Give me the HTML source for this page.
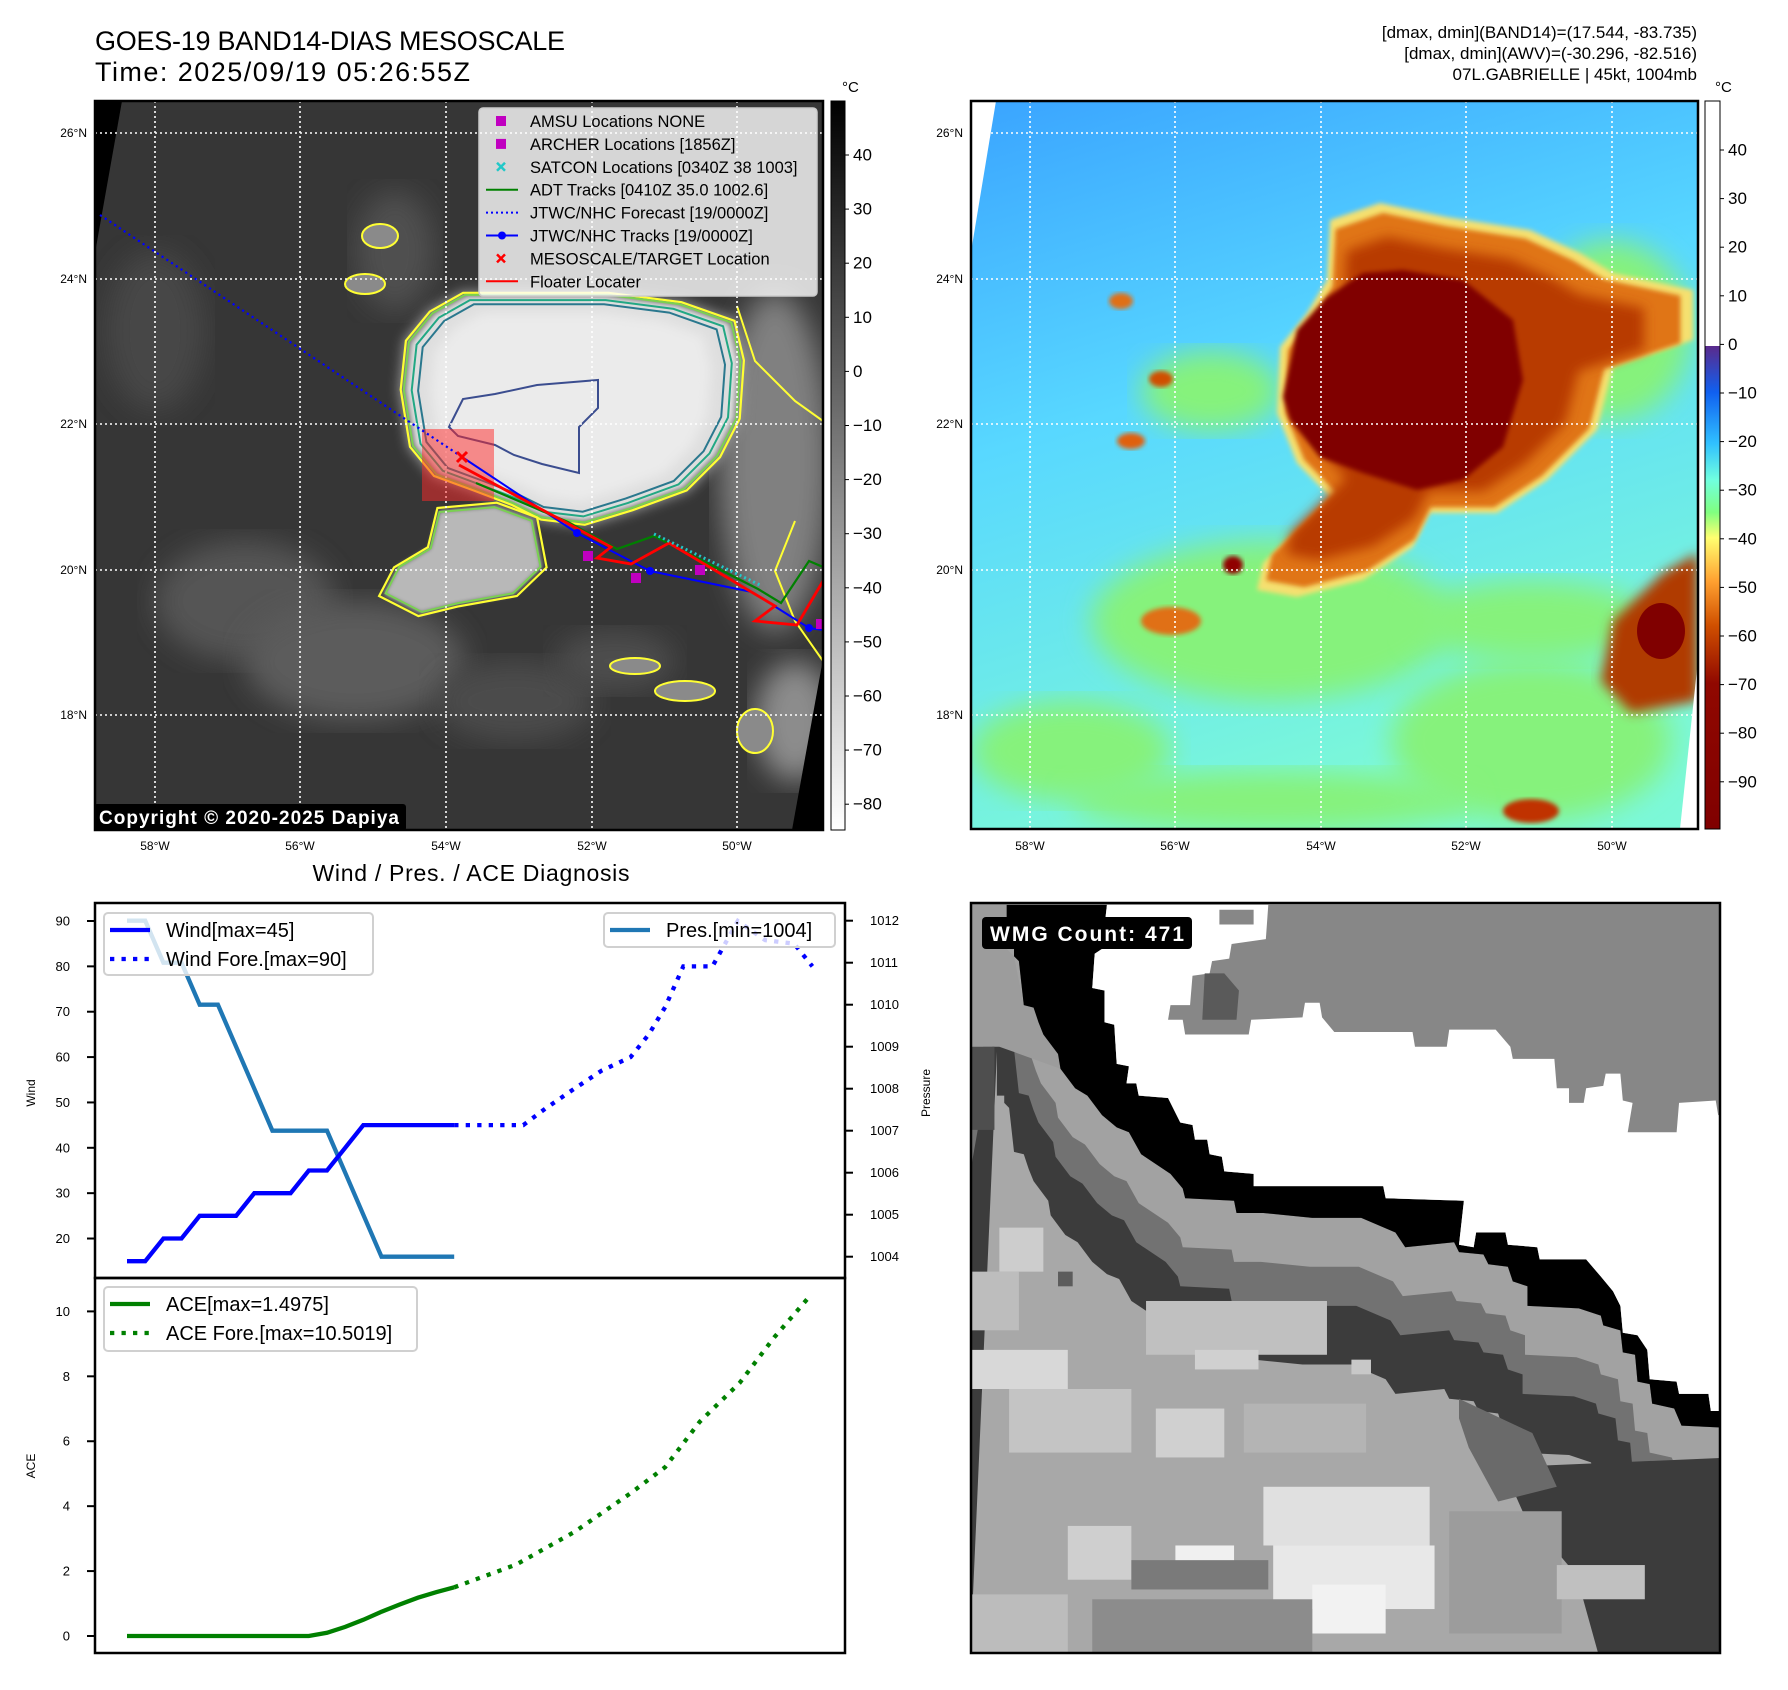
<!DOCTYPE html>
<html><head><meta charset="utf-8"><style>
html,body{margin:0;padding:0;background:#fff;}
svg{display:block;font-family:"Liberation Sans","DejaVu Sans",sans-serif;}
</style></head><body>
<svg id="root" width="1788" height="1690" viewBox="0 0 1788 1690" xmlns="http://www.w3.org/2000/svg">
<defs>
<clipPath id="clipL"><rect x="95" y="101" width="728" height="729"/></clipPath>
<clipPath id="clipR"><rect x="971" y="101" width="727" height="728"/></clipPath>
<clipPath id="clipW"><rect x="971" y="903" width="749" height="750"/></clipPath>
<filter id="blur6"><feGaussianBlur stdDeviation="6"/></filter>
<filter id="blur14"><feGaussianBlur stdDeviation="14"/></filter>
<filter id="blur3"><feGaussianBlur stdDeviation="2.5"/></filter>
<linearGradient id="cbL" x1="0" y1="0" x2="0" y2="1"><stop offset="0" stop-color="#000"/><stop offset="1" stop-color="#fff"/></linearGradient>
<linearGradient id="cbR" x1="0" y1="0" x2="0" y2="1">
<stop offset="0" stop-color="#fff"/><stop offset="0.3366" stop-color="#fff"/>
<stop offset="0.3367" stop-color="#5a2a8c"/><stop offset="0.40" stop-color="#1060f0"/>
<stop offset="0.47" stop-color="#30c0ff"/><stop offset="0.52" stop-color="#70ffe0"/>
<stop offset="0.565" stop-color="#80ff80"/><stop offset="0.60" stop-color="#ffff70"/>
<stop offset="0.66" stop-color="#ffa030"/><stop offset="0.72" stop-color="#d05000"/>
<stop offset="0.80" stop-color="#900800"/><stop offset="1" stop-color="#800000"/></linearGradient>
<linearGradient id="bgR" x1="0" y1="0" x2="0.3" y2="1"><stop offset="0" stop-color="#3aa4ff"/><stop offset="0.45" stop-color="#58d8ff"/><stop offset="1" stop-color="#7cf8d8"/></linearGradient>
</defs>

<text x="95" y="50" font-size="27" textLength="470">GOES-19 BAND14-DIAS MESOSCALE</text>
<text x="95" y="81" font-size="27" textLength="375">Time: 2025/09/19 05:26:55Z</text>
<g font-size="17" text-anchor="end">
<text x="1697" y="38">[dmax, dmin](BAND14)=(17.544, -83.735)</text>
<text x="1697" y="59">[dmax, dmin](AWV)=(-30.296, -82.516)</text>
<text x="1697" y="80">07L.GABRIELLE | 45kt, 1004mb</text>
</g>

<g id="mapL" clip-path="url(#clipL)"></g>
<g id="mapR" clip-path="url(#clipR)"></g>
<g id="wmg" clip-path="url(#clipW)"></g>
<g id="over"></g>
<g id="chart"></g>
</svg>
<script>
// ===== chart data =====
const obsT = [0,1,2,3,4,5,6,7,8,9,10,11,12,13,14,15,16,17,18];
const obsWind = [15,15,20,20,25,25,25,30,30,30,35,35,40,45,45,45,45,45,45];
const obsPres = [1012,1012,1011,1011,1010,1010,1009,1008,1007,1007,1007,1007,1006,1005,1004,1004,1004,1004,1004];
const obsAce = [0,0,0,0,0,0,0,0,0,0,0,0.1,0.28,0.5,0.75,0.97,1.18,1.35,1.5];
const fcstT = [18,21.8,23,24.6,26.1,27.7,28.7,29.6,30.6,32.2,33.6,35.1,36.7,37.7];
const fcstWind = [45,45,48.6,53,57,60,65,71,80,80,90,85.8,85,80];
const aceFcstT = [18,21.4,24.6,27.7,29.6,31.5,33.7,35.6,37.6];
const aceFcst = [1.5,2.2,3.2,4.4,5.2,6.6,7.8,9.2,10.5];
const windTicks = [20,30,40,50,60,70,80,90];
const presTicks = [1004,1005,1006,1007,1008,1009,1010,1011,1012];
const aceTicks = [0,2,4,6,8,10];
const latLabels = ['26°N','24°N','22°N','20°N','18°N'];
const lonLabels = ['58°W','56°W','54°W','52°W','50°W'];
const cbLTicks = [40,30,20,10,0,-10,-20,-30,-40,-50,-60,-70,-80];
const cbRTicks = [40,30,20,10,0,-10,-20,-30,-40,-50,-60,-70,-80,-90];

const NS='http://www.w3.org/2000/svg';
function mk(tag,attrs,parent,txt){const e=document.createElementNS(NS,tag);for(const k in attrs)e.setAttribute(k,attrs[k]);if(txt!==undefined)e.textContent=txt;parent.appendChild(e);return e;}
const X = t => 127 + t*18.18;
const YW = v => 921 + (90-v)*4.536;
const YP = p => 920.7 + (1012-p)*42.0;
const YA = a => 1636 - a*32.46;
const chart=document.getElementById('chart');
function pl(xs,ys,fx,fy,attrs,name){const pts=xs.map((t,i)=>fx(t).toFixed(1)+','+fy(ys[i]).toFixed(1)).join(' ');const e=mk('polyline',Object.assign({points:pts,fill:'none'},attrs),chart);

return e;}

mk('text',{x:471,y:881,'font-size':23,'text-anchor':'middle',textLength:317},chart,'Wind / Pres. / ACE Diagnosis');
pl(obsT,obsPres,X,YP,{stroke:'#1f77b4','stroke-width':4.3},'pressure-line');
pl(obsT,obsWind,X,YW,{stroke:'#0000ff','stroke-width':4.3},'wind-line');
pl(fcstT,fcstWind,X,YW,{stroke:'#0000ff','stroke-width':4.3,'stroke-dasharray':'4.3 7.2'},'wind-forecast-line');
pl(obsT,obsAce,X,YA,{stroke:'#008000','stroke-width':4.3},'ace-line');
pl(aceFcstT,aceFcst,X,YA,{stroke:'#008000','stroke-width':4.3,'stroke-dasharray':'4.3 7.2'},'ace-forecast-line');
mk('rect',{x:95,y:903,width:750,height:375,fill:'none',stroke:'#000','stroke-width':2.5},chart);
mk('rect',{x:95,y:1278,width:750,height:375,fill:'none',stroke:'#000','stroke-width':2.5},chart);
windTicks.forEach(v=>{const y=YW(v);mk('line',{x1:87,x2:95,y1:y,y2:y,stroke:'#000','stroke-width':2},chart);const t=mk('text',{x:70,y:y+4.5,'font-size':13,'text-anchor':'end'},chart,String(v));
});
presTicks.forEach(v=>{const y=YP(v);mk('line',{x1:845,x2:853,y1:y,y2:y,stroke:'#000','stroke-width':2},chart);const t=mk('text',{x:870,y:y+4.5,'font-size':13},chart,String(v));
});
aceTicks.forEach(v=>{const y=YA(v);mk('line',{x1:87,x2:95,y1:y,y2:y,stroke:'#000','stroke-width':2},chart);const t=mk('text',{x:70,y:y+4.5,'font-size':13,'text-anchor':'end'},chart,String(v));
});
mk('text',{x:35,y:1093,'font-size':12,'text-anchor':'middle',transform:'rotate(-90 35 1093)'},chart,'Wind');
mk('text',{x:35,y:1466,'font-size':12,'text-anchor':'middle',transform:'rotate(-90 35 1466)'},chart,'ACE');
mk('text',{x:930,y:1093,'font-size':12,'text-anchor':'middle',transform:'rotate(-90 930 1093)'},chart,'Pressure');
function legend(x,y,w,h,items,name){const g=mk('g',{},chart);


mk('rect',{x:x,y:y,width:w,height:h,rx:4,fill:'rgba(255,255,255,0.8)',stroke:'#d0d0d0','stroke-width':2},g);
items.forEach((it,i)=>{const cy=y+17+i*29;mk('line',{x1:x+6,x2:x+46,y1:cy,y2:cy,stroke:it.c,'stroke-width':4.3,'stroke-dasharray':it.d?'4.3 7.2':'none'},g);mk('text',{x:x+62,y:cy+7,'font-size':20},g,it.t);});}
legend(104,913,269,62,[{c:'#0000ff',t:'Wind[max=45]'},{c:'#0000ff',t:'Wind Fore.[max=90]',d:1}],'wind-legend');
legend(604,913,231,34,[{c:'#1f77b4',t:'Pres.[min=1004]'}],'pressure-legend');
legend(104,1287,313,64,[{c:'#008000',t:'ACE[max=1.4975]'},{c:'#008000',t:'ACE Fore.[max=10.5019]',d:1}],'ace-legend');

// ===== maps =====
const orange=[[359,119],[409,102],[476,116],[559,129],[609,152],[642,172],[722,189],[722,239],[642,266],[626,329],[576,379],[526,412],[459,412],[442,446],[392,479],[326,496],[286,489],[292,462],[326,429],[359,396],[326,362],[306,312],[309,246],[336,212],[356,179]];
const core=[[312,296],[326,229],[356,196],[392,172],[432,169],[492,179],[542,219],[552,279],[532,346],[492,379],[446,389],[392,372],[349,356],[319,319]];
const bright=[[312,289],[317,242],[340,214],[372,196],[419,196],[512,196],[582,205],[633,223],[642,261],[638,317],[619,354],[587,386],[535,405],[489,419],[447,414],[419,400],[382,386],[344,372],[321,344]];
const south=[[344,410],[400,405],[438,419],[447,466],[419,493],[363,503],[326,512],[289,493],[303,466],[335,447]];
const navy=[[354,326],[368,298],[400,293],[442,284],[503,279],[503,307],[484,326],[484,372],[447,363],[419,354],[400,344],[363,335]];
function path(p,ox,oy,s,cx,cy){s=s||1;cx=cx||470;cy=cy||300;return 'M'+p.map(q=>((cx+(q[0]-cx)*s)+ox).toFixed(1)+','+((cy+(q[1]-cy)*s)+oy).toFixed(1)).join('L')+'Z';}
const gL=document.getElementById('mapL'), gR=document.getElementById('mapR');
const LX=95,LY=101,RX=971,RY=101;
// left IR
mk('rect',{x:95,y:101,width:728,height:729,fill:'#363636'},gL);
[[150,500,90,60,'#555'],[260,560,110,60,'#5c5c5c'],[420,600,80,40,'#4c4c4c'],[60,230,50,80,'#474747'],[300,150,40,60,'#505050'],[680,360,55,170,'#808080'],[700,620,40,60,'#8c8c8c'],[520,560,60,30,'#4e4e4e']].forEach(e=>mk('ellipse',{cx:LX+e[0],cy:LY+e[1],rx:e[2],ry:e[3],fill:e[4],filter:'url(#blur14)'},gL));
mk('path',{d:path(bright,LX,LY,1.05),fill:'#9a9a9a',filter:'url(#blur6)'},gL);
mk('path',{d:path(south,LX,LY),fill:'#b8b8b8',filter:'url(#blur3)'},gL);
mk('path',{d:path(bright,LX,LY),fill:'#dedede',filter:'url(#blur3)'},gL);
mk('path',{d:path(bright,LX,LY,0.85),fill:'#ebebeb',filter:'url(#blur6)'},gL);
mk('path',{d:path(bright,LX,LY,1.04),fill:'none',stroke:'#ffff33','stroke-width':2.2},gL);
mk('path',{d:path(bright,LX,LY,1.02),fill:'none',stroke:'#7ad151','stroke-width':2},gL);
mk('path',{d:path(bright,LX,LY,0.97),fill:'none',stroke:'#22a884','stroke-width':2},gL);
mk('path',{d:path(bright,LX,LY,0.93),fill:'none',stroke:'#2a788e','stroke-width':2},gL);
mk('path',{d:path(south,LX,LY,1.06,370,460),fill:'none',stroke:'#ffff33','stroke-width':2.2},gL);
mk('path',{d:path(south,LX,LY,0.98,370,460),fill:'none',stroke:'#7ad151','stroke-width':2},gL);
mk('path',{d:path(navy,LX,LY),fill:'none',stroke:'#3b4d8f','stroke-width':2},gL);
// eastern band contours
mk('polyline',{points:[[642,205],[660,260],[700,300],[728,320]].map(p=>(LX+p[0])+','+(LY+p[1])).join(' '),fill:'none',stroke:'#ffff33','stroke-width':2},gL);
mk('polyline',{points:[[700,420],[680,470],[700,520],[728,560]].map(p=>(LX+p[0])+','+(LY+p[1])).join(' '),fill:'none',stroke:'#ffff33','stroke-width':2},gL);
[[285,135,18,12],[270,183,20,10],[660,630,18,22],[540,565,25,8],[590,590,30,10]].forEach(e=>mk('ellipse',{cx:LX+e[0],cy:LY+e[1],rx:e[2],ry:e[3],fill:'#8a8a8a',stroke:'#ffff33','stroke-width':2},gL));
mk('polygon',{points:'95,101 122,101 95,253',fill:'#000'},gL);
mk('polygon',{points:'823,659 823,830 792,830',fill:'#000'},gL);
// right AWV
mk('rect',{x:971,y:101,width:727,height:728,fill:'url(#bgR)'},gR);
[[300,520,180,80],[560,640,140,80],[100,650,100,50],[640,230,80,90],[300,700,200,30],[240,290,70,40],[560,520,120,40]].forEach(e=>mk('ellipse',{cx:RX+e[0],cy:RY+e[1],rx:e[2],ry:e[3],fill:'#86f27c',filter:'url(#blur14)'},gR));
mk('path',{d:path(orange,RX,RY,1.0),fill:'#f5e070',filter:'url(#blur3)'},gR);
mk('path',{d:path(orange,RX,RY,0.95,470,300),fill:'#e07418',filter:'url(#blur3)'},gR);
mk('path',{d:path(orange,RX,RY,0.82,450,290),fill:'#b83a00',filter:'url(#blur6)'},gR);
mk('path',{d:path(core,RX,RY),fill:'#800000',filter:'url(#blur3)'},gR);
mk('polygon',{points:(RX+642)+','+(RY+520)+' '+(RX+692)+','+(RY+472)+' '+(RX+727)+','+(RY+452)+' '+(RX+727)+','+(RY+600)+' '+(RX+660)+','+(RY+612)+' '+(RX+630)+','+(RY+580),fill:'#b03a00',filter:'url(#blur6)'},gR);
mk('ellipse',{cx:RX+690,cy:RY+530,rx:24,ry:28,fill:'#800000'},gR);
[[190,278,12,8,'#d05000'],[160,340,14,8,'#e06010'],[262,464,10,9,'#900000'],[560,710,28,12,'#c03000'],[150,200,12,8,'#e07018'],[200,520,30,14,'#e07018']].forEach(e=>mk('ellipse',{cx:RX+e[0],cy:RY+e[1],rx:e[2],ry:e[3],fill:e[4],filter:'url(#blur3)'},gR));
mk('polygon',{points:'971,101 996,101 971,252',fill:'#fff'},gR);
mk('polygon',{points:'1698,660 1698,829 1680,829',fill:'#fff'},gR);

const over=document.getElementById('over');
function grid(ox,lonX){
 [133,279,424,570,715].forEach((y,i)=>{mk('line',{x1:ox,x2:ox+728,y1:y,y2:y,stroke:'#fff','stroke-width':1.6,'stroke-dasharray':'2 3'},over);const t=mk('text',{x:ox-8,y:y+4,'font-size':12,'text-anchor':'end'},over,latLabels[i]);
 });
 lonX.forEach((x,i)=>{mk('line',{x1:x,x2:x,y1:101,y2:830,stroke:'#fff','stroke-width':1.6,'stroke-dasharray':'2 3'},over);const t=mk('text',{x:x,y:850,'font-size':12,'text-anchor':'middle'},over,lonLabels[i]);
 });
}
grid(95,[155,300,446,592,737]);
grid(971,[1030,1175,1321,1466,1612]);

const tg=mk('g',{'clip-path':'url(#clipL)'},over);


mk('rect',{x:422,y:429,width:72,height:72,fill:'rgba(255,40,40,0.5)'},tg);
mk('polyline',{points:'100,215 462,457',fill:'none',stroke:'#0000ff','stroke-width':2.2,'stroke-dasharray':'2.2 3.5'},tg);
mk('polyline',{points:'462,457 577,533 650,571 752,592 809,628 823,630',fill:'none',stroke:'#0000ff','stroke-width':2},tg);
mk('polyline',{points:'476,483 568,522 617,549 654,536 758,589 781,603 809,561 823,567',fill:'none',stroke:'#008000','stroke-width':2.2},tg);
mk('polyline',{points:'459,465 565,522 611,547 597,558 631,564 669,543 775,606 755,621 797,625 823,581',fill:'none',stroke:'#ff0000','stroke-width':2.8},tg);
[[577,533],[650,571],[809,628]].forEach(p=>mk('circle',{cx:p[0],cy:p[1],r:4,fill:'#0000ff'},tg));
[[588,556],[636,578],[700,570],[821,624]].forEach(p=>mk('rect',{x:p[0]-5,y:p[1]-5,width:10,height:10,fill:'#c000c0'},tg));
mk('path',{d:'M457,452 L467,462 M467,452 L457,462',stroke:'#ff0000','stroke-width':3},tg);
mk('polyline',{points:'654,534 760,585',fill:'none',stroke:'#22c8c8','stroke-width':3,'stroke-dasharray':'2 3'},tg);
const lg=mk('g',{},over);


mk('rect',{x:479,y:108,width:338,height:188,rx:4,fill:'rgba(255,255,255,0.8)',stroke:'#ccc','stroke-width':1.5},lg);
const li=[['sq','#c000c0','AMSU Locations NONE'],['sq','#c000c0','ARCHER Locations [1856Z]'],['x','#22c8c8','SATCON Locations [0340Z 38 1003]'],['ln','#008000','ADT Tracks [0410Z 35.0 1002.6]'],['dot','#0000ff','JTWC/NHC Forecast [19/0000Z]'],['lnc','#0000ff','JTWC/NHC Tracks [19/0000Z]'],['x','#ff0000','MESOSCALE/TARGET Location'],['ln','#ff0000','Floater Locater']];
li.forEach((it,i)=>{const y=121+i*22.9;
 if(it[0]==='sq')mk('rect',{x:496,y:y-5,width:10,height:10,fill:it[1]},lg);
 if(it[0]==='x')mk('path',{d:`M497,${y-4}L505,${y+4}M505,${y-4}L497,${y+4}`,stroke:it[1],'stroke-width':2.5},lg);
 if(it[0]==='ln'||it[0]==='lnc')mk('line',{x1:486,x2:518,y1:y,y2:y,stroke:it[1],'stroke-width':2},lg);
 if(it[0]==='lnc')mk('circle',{cx:502,cy:y,r:4,fill:it[1]},lg);
 if(it[0]==='dot')mk('line',{x1:486,x2:518,y1:y,y2:y,stroke:it[1],'stroke-width':2,'stroke-dasharray':'2 3'},lg);
 mk('text',{x:530,y:y+6,'font-size':16.5},lg,it[2]);});
mk('rect',{x:94,y:804,width:312,height:27,rx:3,fill:'#000'},over);
mk('text',{x:99,y:824,'font-size':19,'font-weight':'bold',fill:'#fff',textLength:300},over,'Copyright © 2020-2025 Dapiya');
mk('rect',{x:95,y:101,width:728,height:729,fill:'none',stroke:'#000','stroke-width':2.5},over);
mk('rect',{x:971,y:101,width:727,height:728,fill:'none',stroke:'#000','stroke-width':2.5},over);
const cbl=mk('rect',{x:831,y:101,width:14,height:729,fill:'url(#cbL)',stroke:'#000','stroke-width':1},over);

cbLTicks.forEach(v=>{const y=155+(40-v)*5.41;mk('line',{x1:845,x2:849,y1:y,y2:y,stroke:'#000'},over);const t=mk('text',{x:853,y:y+5.5,'font-size':17},over,(v<0?'\u2212'+(-v):String(v)));
});
mk('text',{x:842,y:92,'font-size':15},over,'°C');
const cbr=mk('rect',{x:1705,y:101,width:15,height:728,fill:'url(#cbR)',stroke:'#000','stroke-width':1},over);

cbRTicks.forEach(v=>{const y=150+(40-v)*4.86;mk('line',{x1:1720,x2:1724,y1:y,y2:y,stroke:'#000'},over);const t=mk('text',{x:1728,y:y+5.5,'font-size':17},over,(v<0?'\u2212'+(-v):String(v)));
});
mk('text',{x:1715,y:92,'font-size':15},over,'°C');

// ===== WMG panel =====
const wg=document.getElementById('wmg');
const w=mk('g',{transform:'translate(970,900) scale(0.489)'},wg);
mk('rect',{x:0,y:0,width:1560,height:1560,fill:'#a8a8a8'},w);
const UE=[[280,10],[270,100],[255,110],[250,180],[275,185],[275,250],[295,255],[300,335],[325,340],[320,375],[340,375],[345,400],[405,405],[430,455],[455,460],[460,490],[485,490],[490,520],[515,525],[520,555],[580,560],[580,585],[845,585],[850,610],[1010,615],[1000,705],[1030,710],[1035,680],[1095,680],[1100,705],[1160,710],[1165,735],[1260,735],[1290,770],[1315,800],[1330,830],[1335,885],[1365,890],[1385,920],[1390,980],[1445,985],[1450,1010],[1510,1010],[1515,1045],[1560,1045]];
const BE=[[75,10],[75,100],[90,100],[90,115],[100,125],[110,215],[130,220],[140,250],[150,275],[180,315],[185,345],[215,385],[240,400],[270,440],[300,465],[325,475],[350,520],[410,560],[435,590],[440,610],[540,615],[545,640],[600,640],[700,650],[800,650],[870,680],[890,710],[990,700],[1000,720],[1050,725],[1060,745],[1100,750],[1110,780],[1140,790],[1140,830],[1245,835],[1290,850],[1295,870],[1330,880],[1335,925],[1360,930],[1365,985],[1390,990],[1395,1030],[1440,1040],[1455,1075],[1560,1080]];
const P=a=>a.map(p=>p[0]+','+p[1]).join(' ');
const shift=(a,dy,dx)=>a.map(p=>[p[0]+(dx||0),p[1]+dy]);
const rev=a=>a.slice().reverse();
mk('polygon',{points:P(BE)+' '+P(rev(shift(BE,300,-20)))+' 0,1560 0,10',fill:'#3c3c3c'},w);
mk('polygon',{points:P(BE)+' '+P(rev(shift(BE,180,-10)))+' 0,560 0,10',fill:'#727272'},w);
mk('polygon',{points:P(BE)+' '+P(rev(shift(BE,100,-5)))+' 0,420 0,10',fill:'#a2a2a2'},w);
mk('polygon',{points:'0,10 75,10 75,100 90,115 110,215 130,220 150,275 180,315 185,345 60,300 0,300',fill:'#9c9c9c'},w);
mk('polygon',{points:'0,300 50,300 50,470 0,470',fill:'#4e4e4e'},w);
mk('polygon',{points:P(UE)+' '+P(rev(BE)),fill:'#000'},w);
mk('polygon',{points:'280,10 1560,10 '+P(rev(UE)),fill:'#878787'},w);
mk('polygon',{points:'280,10 610,10 605,80 535,90 530,120 495,125 490,150 455,155 450,215 410,215 405,245 435,245 440,275 570,275 575,245 680,240 685,210 715,210 720,240 745,270 905,270 910,300 975,300 980,265 1075,265 1105,300 1110,325 1195,325 1200,385 1225,385 1225,415 1255,415 1260,385 1295,380 1300,355 1330,355 1335,410 1355,415 1345,475 1445,475 1450,415 1525,410 1530,440 1560,440 1560,1045 '+P(rev(UE)),fill:'#fff'},w);
mk('polygon',{points:'480,150 520,150 550,185 545,245 475,245',fill:'#5a5a5a'},w);
mk('polygon',{points:'510,20 580,20 580,50 510,50',fill:'#878787'},w);
[[1090,1160,1560,1140,1560,1560,1290,1560,1240,1380,1130,1250,'#3c3c3c'],[1000,1020,1150,1090,1200,1200,1080,1230,1020,1120,1000,1060,'#6a6a6a']].forEach(a=>mk('polygon',{points:a.slice(0,12).join(' '),fill:a[12]},w));
[[60,670,90,90,'#cdcdcd'],[0,760,100,120,'#bdbdbd'],[360,820,370,110,'#c0c0c0'],[460,920,130,40,'#d0d0d0'],[0,920,200,80,'#d8d8d8'],[80,1000,250,130,'#c4c4c4'],[380,1040,140,100,'#d0d0d0'],[600,1200,340,120,'#e0e0e0'],[620,1320,330,130,'#e8e8e8'],[700,1400,150,100,'#f2f2f2'],[200,1280,130,110,'#cfcfcf'],[420,1320,120,40,'#f0f0f0'],[330,1350,280,60,'#7a7a7a'],[0,1420,200,140,'#bcbcbc'],[250,1430,450,130,'#8c8c8c'],[980,1250,230,250,'#9c9c9c'],[1200,1360,180,70,'#c0c0c0'],[780,940,40,30,'#c8c8c8'],[180,760,30,30,'#5c5c5c'],[560,1030,250,100,'#b4b4b4']].forEach(r=>mk('rect',{x:r[0],y:r[1],width:r[2],height:r[3],fill:r[4]},w));
mk('rect',{x:971,y:903,width:749,height:750,fill:'none',stroke:'#000','stroke-width':2.5},over);
mk('rect',{x:982,y:917,width:210,height:32,rx:4,fill:'#000'},over);
mk('text',{x:990,y:941,'font-size':21,'font-weight':'bold',fill:'#fff',textLength:194},over,'WMG Count: 471');
</script>
</body></html>
